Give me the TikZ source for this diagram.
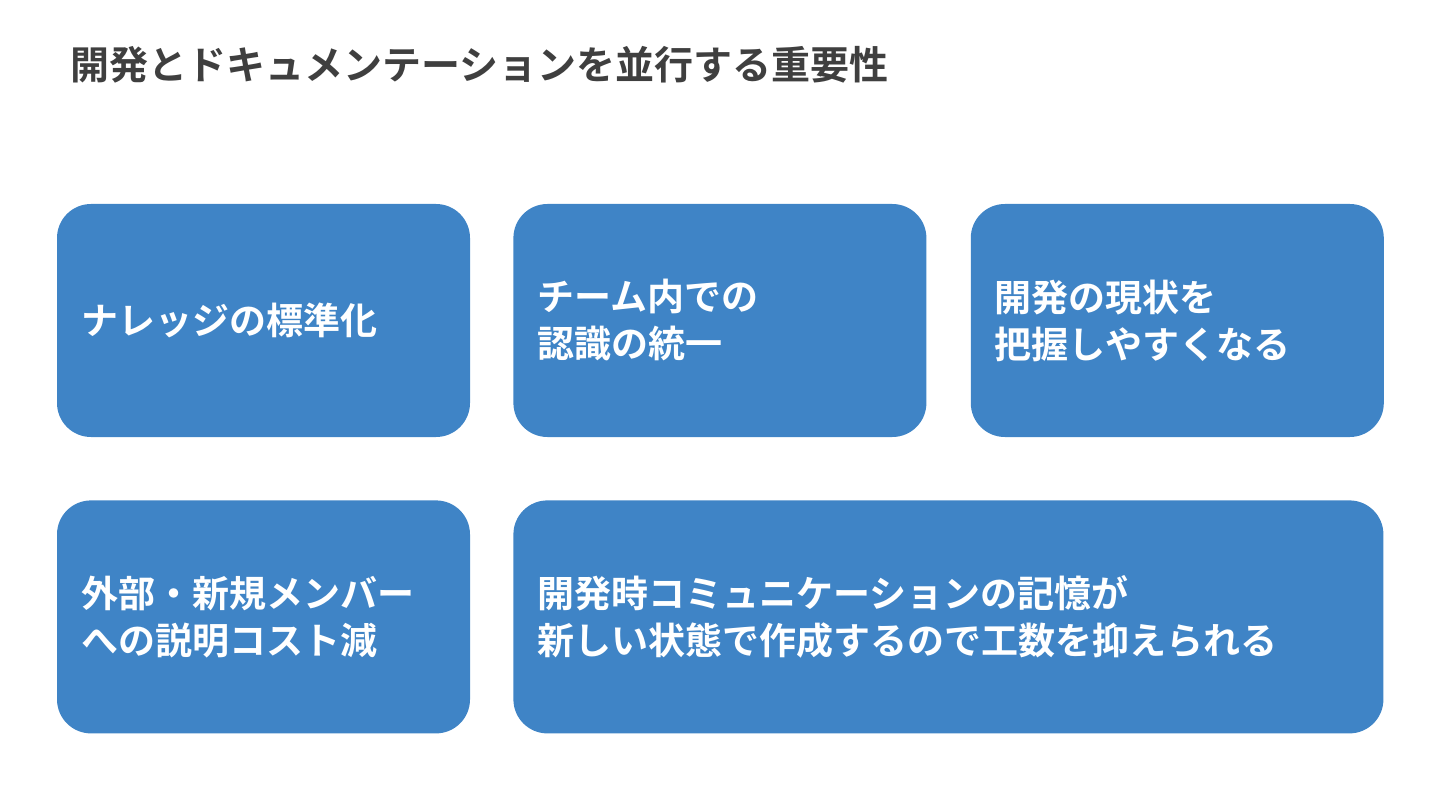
\documentclass[tikz,border=0pt]{standalone}
\usepackage{fontspec}
\usepackage{xcolor}
\newfontfamily\jpfont{Noto Sans CJK JP}[BoldFont={* Bold}]
\usetikzlibrary{positioning}

\definecolor{cardblue}{HTML}{3F84C6}
\definecolor{titlegray}{HTML}{3F3F3F}

\begin{document}
\begin{tikzpicture}[x=1pt, y=1pt,
    card/.style={rectangle, rounded corners=34pt, fill=cardblue, draw=none, minimum height=233pt, inner xsep=24pt, inner ysep=0pt, align=left, text=white, font=\jpfont\bfseries\fontsize{37pt}{47pt}\selectfont},
    smallcard/.style={card, minimum width=413pt, text width=365pt},
    widecard/.style={card, minimum width=870pt, text width=822pt},
    heading/.style={anchor=west, inner sep=0pt, text=titlegray, font=\jpfont\bfseries\fontsize{39pt}{46pt}\selectfont},
]
\useasboundingbox (0,0) rectangle (1440,-810);

\node[heading] (title) at (70,-65) {開発とドキュメンテーションを並行する重要性};

% top row
\node[smallcard] (knowledge) at (263.5,-320.5) {ナレッジの標準化};
\node[smallcard, right=43pt of knowledge] (team) {チーム内での\\認識の統一};
\node[smallcard, right=44pt of team] (status) {開発の現状を\\把握しやすくなる};

% bottom row
\node[smallcard, below=63pt of knowledge] (member) {外部・新規メンバー\\への説明コスト減};
\node[widecard, right=43pt of member] (memory) {開発時コミュニケーションの記憶が\\新しい状態で作成するので工数を抑えられる};
\end{tikzpicture}
\end{document}
